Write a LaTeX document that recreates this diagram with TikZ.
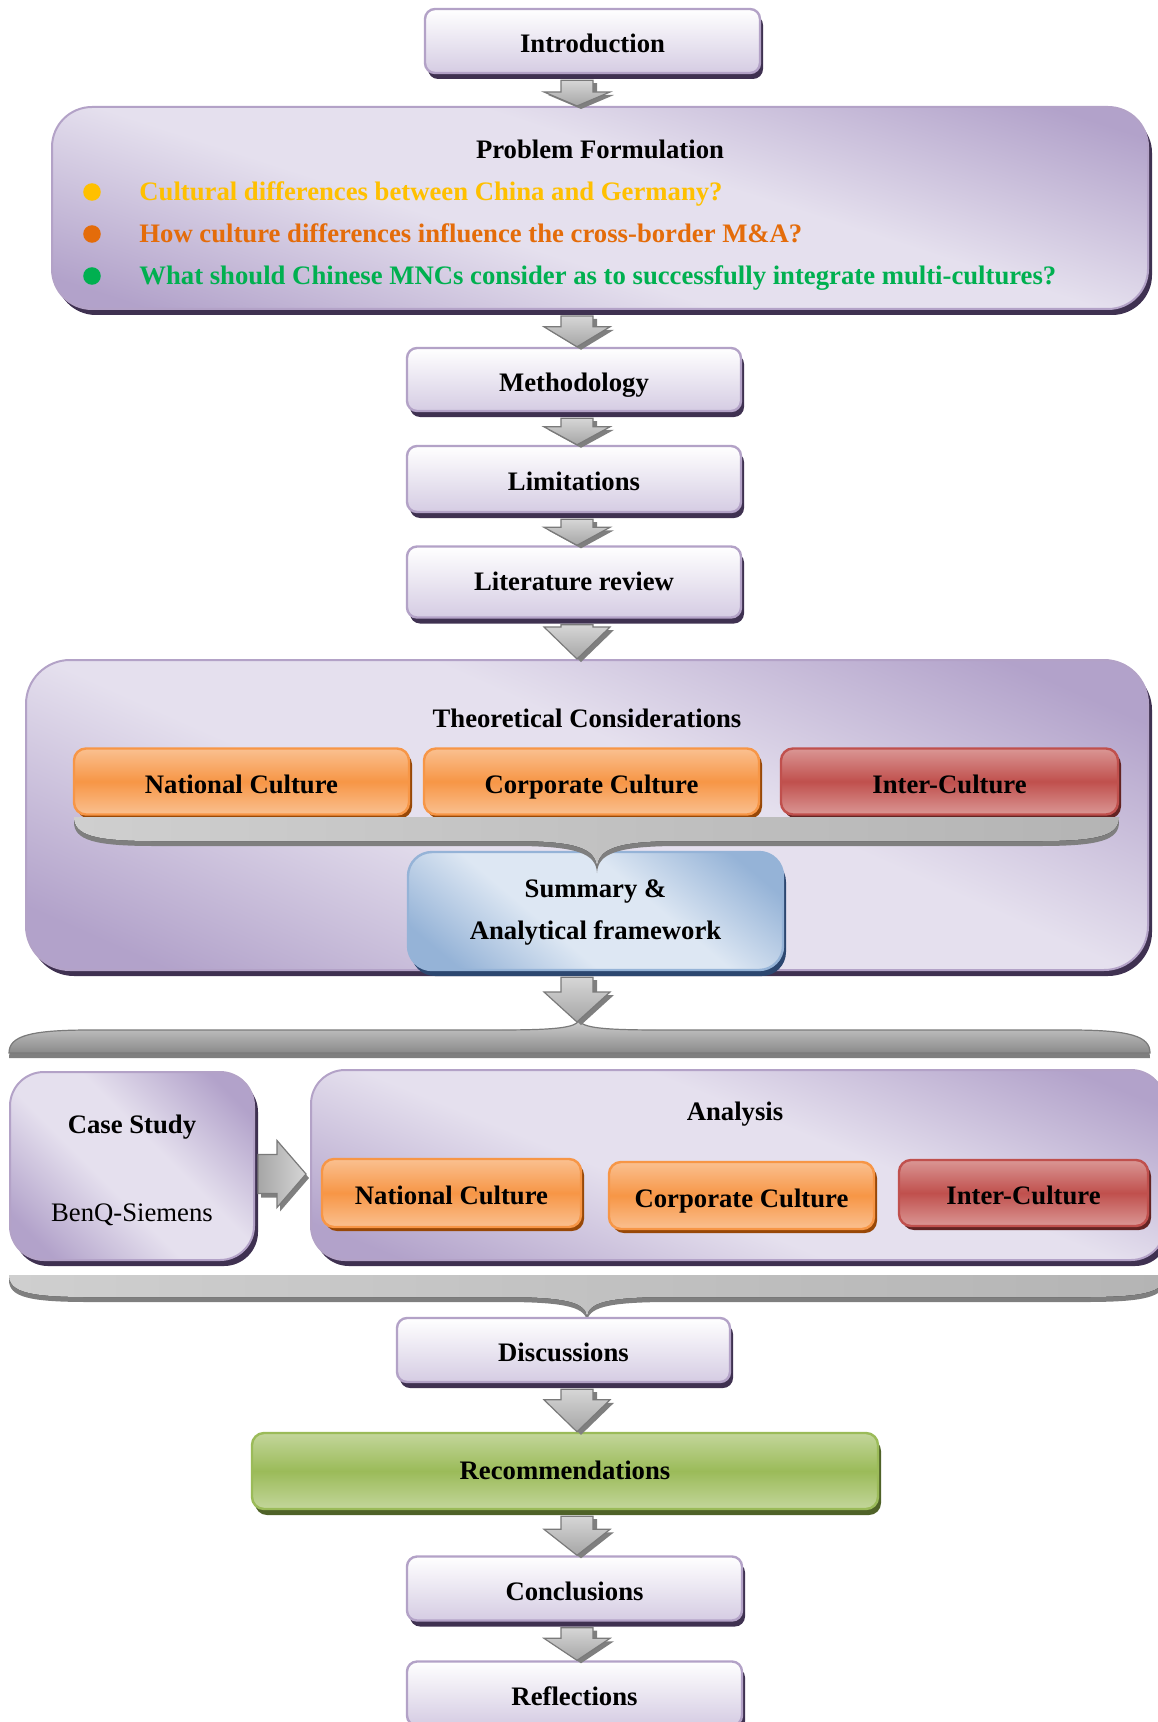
\documentclass[tikz,border=0pt]{standalone}
\usepackage{fontspec}
\setmainfont{Liberation Serif}
\usetikzlibrary{calc,shadows}
\definecolor{pL}{HTML}{E5E0EE}
\definecolor{pD}{HTML}{B2A2CA}
\definecolor{pBorder}{HTML}{B3A2C7}
\definecolor{pS}{HTML}{3F3151}
\definecolor{sBot}{HTML}{D5CCE3}
\definecolor{oL}{HTML}{FAC090}
\definecolor{oM}{HTML}{F79646}
\definecolor{oS}{HTML}{984807}
\definecolor{rL}{HTML}{DA9694}
\definecolor{rM}{HTML}{C0504D}
\definecolor{rS}{HTML}{632423}
\definecolor{gL}{HTML}{C3D69B}
\definecolor{gM}{HTML}{9BBB59}
\definecolor{gS}{HTML}{4F6228}
\definecolor{bL}{HTML}{DDE7F3}
\definecolor{bD}{HTML}{95B3D7}
\definecolor{bS}{HTML}{2C4770}
\definecolor{aL}{HTML}{D6D6D6}
\definecolor{aD}{HTML}{A6A6A6}
\definecolor{aE}{HTML}{7A7A7A}
\definecolor{aS}{HTML}{7F7F7F}
\definecolor{brL}{HTML}{CFCFCF}
\definecolor{brR}{HTML}{B4B4B4}
\definecolor{brS}{HTML}{7F7F7F}
\definecolor{brD}{HTML}{8A8A8A}
\definecolor{qY}{HTML}{FFC000}
\definecolor{qO}{HTML}{E46C0A}
\definecolor{qG}{HTML}{00B050}
\pgfdeclarehorizontalshading{pband}{100bp}{color(0bp)=(pD); color(22bp)=(pD); color(43bp)=(pL); color(57bp)=(pL); color(78bp)=(pD); color(100bp)=(pD)}
\pgfdeclarehorizontalshading{bband}{100bp}{color(0bp)=(bD); color(22bp)=(bD); color(41bp)=(bL); color(59bp)=(bL); color(78bp)=(bD); color(100bp)=(bD)}
\begin{document}
\begin{tikzpicture}[x=0.5pt,y=-0.5pt,
  every node/.style={font=\fontsize{13.35}{16}\selectfont\bfseries, inner sep=0pt, text height=8.8pt, text depth=0pt},
  boxtext/.style={text height=11.8pt, text depth=0pt},
  sbox/.style={boxtext, rectangle, rounded corners=5pt, draw=pBorder, line width=1.2pt, top color=white, bottom color=sBot,
    general shadow={fill=pS, shadow xshift=1.5pt, shadow yshift=-3pt}},
  cont/.style={rectangle, rounded corners=#1, draw=pBorder, line width=1pt, shade, shading=pband,
    general shadow={fill=pS, shadow xshift=2pt, shadow yshift=-3pt}},
  obox/.style={boxtext, rectangle, rounded corners=6pt, draw=oM, line width=1.2pt, top color=oL, bottom color=oL, middle color=oM,
    general shadow={fill=oS, shadow xshift=1.5pt, shadow yshift=-2pt}},
  rbox/.style={boxtext, rectangle, rounded corners=6pt, draw=rM, line width=1.2pt, top color=rL, bottom color=rL, middle color=rM,
    general shadow={fill=rS, shadow xshift=1.5pt, shadow yshift=-2pt}},
  gbox/.style={boxtext, rectangle, rounded corners=6pt, draw=gM, line width=1.2pt, top color=gL, bottom color=gL, middle color=gM,
    general shadow={fill=gS, shadow xshift=1.5pt, shadow yshift=-3pt}},
  bbox/.style={rectangle, rounded corners=12pt, draw=bD, line width=1.2pt, shade, shading=bband, shading angle=50,
    general shadow={fill=bS, shadow xshift=1.5pt, shadow yshift=-3pt}},
  blockarrow/.style={
    to path={let \p1=(\tikztostart), \p2=(\tikztotarget) in
      (\x1-8pt,\y1) -- (\x1+8pt,\y1) -- (\x1+8pt,\y2+#1) -- (\x1+16.5pt,\y2+#1) -- (\x1,\y2)
      -- (\x1-16.5pt,\y2+#1) -- (\x1-8pt,\y2+#1) -- cycle},
    top color=aL, bottom color=aD, draw=aE, line width=0.6pt,
    general shadow={fill=aS, shadow xshift=2pt, shadow yshift=-1.5pt}},
  rightblock/.style={
    to path={let \p1=(\tikztostart), \p2=(\tikztotarget) in
      (\x1,\y1+9.75pt) -- (\x2-#1,\y1+9.75pt) -- (\x2-#1,\y1+16.75pt) -- (\x2,\y1)
      -- (\x2-#1,\y1-16.75pt) -- (\x2-#1,\y1-9.75pt) -- (\x1,\y1-9.75pt) -- cycle},
    left color=aD, right color=aL, draw=aE, line width=0.6pt,
    general shadow={fill=aS, shadow xshift=1.5pt, shadow yshift=-2pt}},
  bracefill/.style={left color=brL, right color=brR,
    general shadow={fill=brS, shadow xshift=0pt, shadow yshift=-2.5pt}},
  qtext/.style={anchor=west},
  bullet/.style={circle, minimum size=7.5pt, inner sep=0pt}
]
\path[use as bounding box] (0,0) rectangle (1157,1722);

% main column
\node[sbox, minimum width=167.5pt, minimum height=32pt] (intro) at (592.5,41) {Introduction};

\node[cont=20pt, shading angle=72, minimum width=548pt, minimum height=101pt] (prob) at (600,208) {};
\node (probtitle) at (600,150) {Problem Formulation};
\node[bullet, fill=qY] (b1) at (92,192) {};
\node[bullet, fill=qO] (b2) at (92,234) {};
\node[bullet, fill=qG] (b3) at (92,276) {};
\node[qtext, text=qY] (q1) at (139,192) {Cultural differences between China and Germany?};
\node[qtext, text=qO] (q2) at (139,234) {How culture differences influence the cross-border M\&A?};
\node[qtext, text=qG] (q3) at (139,276) {What should Chinese MNCs consider as to successfully integrate multi-cultures?};

\node[sbox, minimum width=167pt, minimum height=31.5pt] (meth) at (574,379.5) {Methodology};
\node[sbox, minimum width=167pt, minimum height=33pt] (lim) at (574,479) {Limitations};
\node[sbox, text height=8.8pt, minimum width=167pt, minimum height=35.5pt] (lit) at (574,582) {Literature review};

\node[cont=22pt, shading angle=66, minimum width=561pt, minimum height=155pt] (theo) at (587,815) {};
\node (theotitle) at (587,719) {Theoretical Considerations};
\node[bbox, minimum width=187.5pt, minimum height=59pt] (summ) at (595.5,911) {};
\node[obox, minimum width=167.5pt, minimum height=33pt] (nc1) at (241.5,781.5) {National Culture};
\node[obox, minimum width=167.5pt, minimum height=33pt] (cc1) at (591.5,781.5) {Corporate Culture};
\node[rbox, minimum width=168.5pt, minimum height=33pt] (ic1) at (949.5,781.5) {Inter-Culture};
\node (summtext) at (595.5,910) [align=center, text height=29.8pt, text depth=0pt, font=\fontsize{13.35}{21}\selectfont\bfseries] {Summary \&\\Analytical framework};

% brace 1 (down)
\fill[bracefill] (74,817) -- (1119,817) .. controls (1119,835) and (1100,841) .. (1040,841) -- (680,841)
  .. controls (615,841) and (598,849) .. (597,868) .. controls (596,849) and (579,841) .. (514,841)
  -- (154,841) .. controls (94,841) and (74,835) .. (74,817) -- cycle;

% brace 2 (up)
\coordinate (b2tip) at (579,1022);
\path[top color=brL, bottom color=brD, draw=aE, line width=0.6pt,
  general shadow={fill=brS, shadow xshift=0pt, shadow yshift=-2.5pt}]
  (9,1053) .. controls (9,1036) and (30,1030) .. (90,1030) -- (495,1030)
  .. controls (555,1030) and (576,1028) .. (579,1020) .. controls (582,1028) and (603,1030) .. (663,1030)
  -- (1070,1030) .. controls (1130,1030) and (1150,1036) .. (1150,1053) -- cycle;

% case study and analysis
\node[cont=17pt, shading angle=45, minimum width=122pt, minimum height=94pt] (case) at (132,1166) {};
\node (casetitle) at (132,1125) {Case Study};
\node[font=\fontsize{13.35}{16}\selectfont] (benq) at (132,1213) {BenQ-Siemens};
\node[cont=17pt, shading angle=68, minimum width=427pt, minimum height=95pt] (anal) at (738,1165) {};
\node (analtitle) at (735,1112) {Analysis};
\node[obox, minimum width=129.5pt, minimum height=34pt] (nc2) at (451.5,1193) {National Culture};
\node[obox, minimum width=132.5pt, minimum height=33.5pt] (cc2) at (741.5,1195.5) {Corporate Culture};
\node[rbox, minimum width=124.5pt, minimum height=33pt] (ic2) at (1023.5,1193) {Inter-Culture};

% brace 3 (down)
\fill[bracefill] (9,1275) -- (1165,1275) .. controls (1165,1292) and (1145,1297) .. (1085,1297) -- (670,1297)
  .. controls (605,1297) and (588,1303) .. (587,1317) .. controls (586,1303) and (569,1297) .. (504,1297)
  -- (89,1297) .. controls (29,1297) and (9,1292) .. (9,1275) -- cycle;

\node[sbox, minimum width=166.5pt, minimum height=32pt] (disc) at (563.5,1350) {Discussions};
\node[gbox, text height=8.8pt, minimum width=313pt, minimum height=38pt] (rec) at (565,1471) {Recommendations};
\node[sbox, minimum width=167.5pt, minimum height=32pt] (conc) at (574.5,1588.5) {Conclusions};
\node[sbox, minimum width=167.5pt, minimum height=32pt] (refl) at (574.5,1693.5) {Reflections};

% block arrows
\coordinate (ax) at (577,0);
\draw[blockarrow=7pt] ($(intro.south -| ax)+(0,6)$) to (prob.north -| ax);
\draw[blockarrow=10pt] ($(prob.south -| ax)+(0,6)$) to (meth.north -| ax);
\draw[blockarrow=9pt] ($(meth.south -| ax)+(0,6)$) to (lim.north -| ax);
\draw[blockarrow=9pt] ($(lim.south -| ax)+(0,6)$) to (lit.north -| ax);
\draw[blockarrow=16pt] ($(lit.south -| ax)+(0,6)$) to (theo.north -| ax);
\draw[blockarrow=15pt] ($(summ.south -| ax)+(0,6)$) to (b2tip -| ax);
\draw[blockarrow=16pt] ($(disc.south -| ax)+(0,6)$) to (rec.north -| ax);
\draw[blockarrow=13pt] ($(rec.south -| ax)+(0,6)$) to (conc.north -| ax);
\draw[blockarrow=11pt] ($(conc.south -| ax)+(0,6)$) to (refl.north -| ax);
\draw[rightblock=14.5pt] ($(case.east)+(3,8)$) to ($(anal.west)+(-4,9)$);
\end{tikzpicture}
\end{document}
